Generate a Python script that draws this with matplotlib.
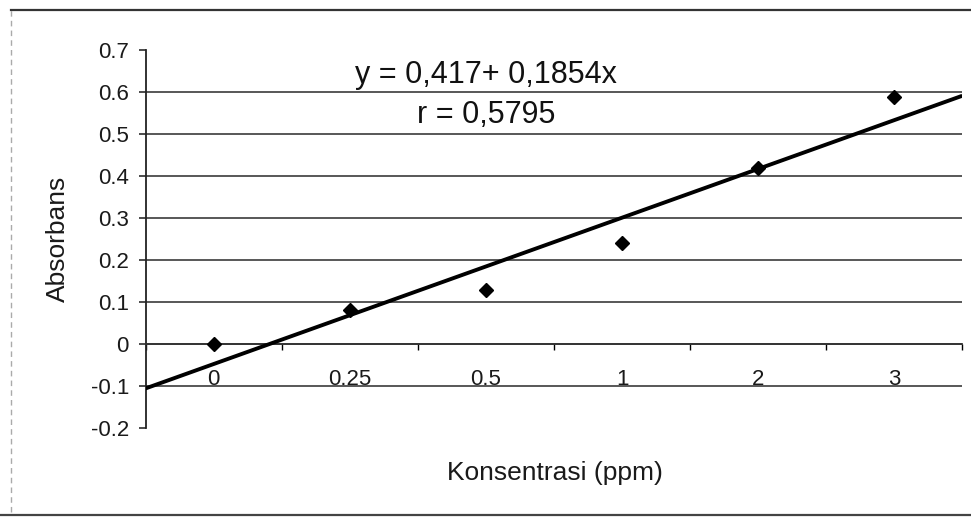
import matplotlib
matplotlib.use("Agg")
import matplotlib.pyplot as plt
import numpy as np
from matplotlib.lines import Line2D

plt.rcParams["font.family"] = ["Liberation Sans", "DejaVu Sans"]

# data
konsentrasi = ["0", "0.25", "0.5", "1", "2", "3"]
absorbans = [0.0, 0.081, 0.129, 0.240, 0.419, 0.588]
y_ticks = [-0.2, -0.1, 0, 0.1, 0.2, 0.3, 0.4, 0.5, 0.6, 0.7]
y_ticklabels = ["-0.2", "-0.1", "0", "0.1", "0.2", "0.3", "0.4", "0.5", "0.6", "0.7"]
eq_text = "y = 0,417+ 0,1854x"
r_text = "r = 0,5795"

fig = plt.figure(figsize=(9.71, 5.22), dpi=100)
ax = fig.add_axes([0.150, 0.180, 0.841, 0.724])

idx = np.arange(len(konsentrasi))
ax.set_xlim(-0.5, len(konsentrasi) - 0.5)
ax.set_ylim(y_ticks[0], y_ticks[-1])

# horizontal gridlines (inner ticks only, as in the scan)
for v in y_ticks[1:-1]:
    ax.axhline(v, color="#4a4a4a", lw=1.3, zorder=1)

# Excel-style linear trendline over category index (1-based), extended to edges
coef = np.polyfit(idx + 1, absorbans, 1)
xs = np.array(ax.get_xlim())
ax.plot(xs, np.polyval(coef, xs + 1), color="black", lw=2.8, zorder=3,
        solid_capstyle="butt")

ax.plot(idx, absorbans, linestyle="none", marker="D", ms=7,
        color="black", zorder=4)

# axes styling
for s in ("top", "right"):
    ax.spines[s].set_visible(False)
ax.spines["left"].set_color("#222222")
ax.spines["left"].set_linewidth(1.3)
ax.spines["bottom"].set_position(("data", 0))
ax.spines["bottom"].set_color("#333333")
ax.spines["bottom"].set_linewidth(1.3)

ax.set_yticks(y_ticks)
ax.set_yticklabels(y_ticklabels)
ax.tick_params(axis="y", direction="out", length=5, width=1.1, pad=7,
               labelsize=16, colors="#1a1a1a")

ax.set_xticks(np.arange(-0.5, len(konsentrasi)))
ax.set_xticklabels([])
ax.tick_params(axis="x", which="major", direction="out", length=4, width=1)
ax.set_xticks(idx, minor=True)
ax.set_xticklabels(konsentrasi, minor=True)
ax.tick_params(axis="x", which="minor", length=0, pad=18, labelsize=16,
               colors="#1a1a1a")

ax.set_ylabel("Absorbans", fontsize=19, color="#1a1a1a")
ax.yaxis.set_label_coords(-0.093, 0.5)
ax.set_xlabel("Konsentrasi (ppm)", fontsize=19, color="#1a1a1a")
ax.xaxis.set_label_coords(0.501, -0.088)

ax.text(2, 0.64, eq_text, ha="center", va="center", fontsize=22,
        color="#111111")
ax.text(2, 0.545, r_text, ha="center", va="center", fontsize=22,
        color="#111111")

# chart area border remnants (top/bottom solid, left faint)
fig.add_artist(Line2D([0.011, 1.0], [0.981, 0.981], color="#333333", lw=1.6,
                      transform=fig.transFigure))
fig.add_artist(Line2D([0.0, 1.0], [0.013, 0.013], color="#444444", lw=1.6,
                      transform=fig.transFigure))
fig.add_artist(Line2D([0.011, 0.011], [0.02, 0.981], color="#aaaaaa", lw=1.0,
                      linestyle=(0, (4, 3)), transform=fig.transFigure))

fig.savefig("out.png", dpi=100)
